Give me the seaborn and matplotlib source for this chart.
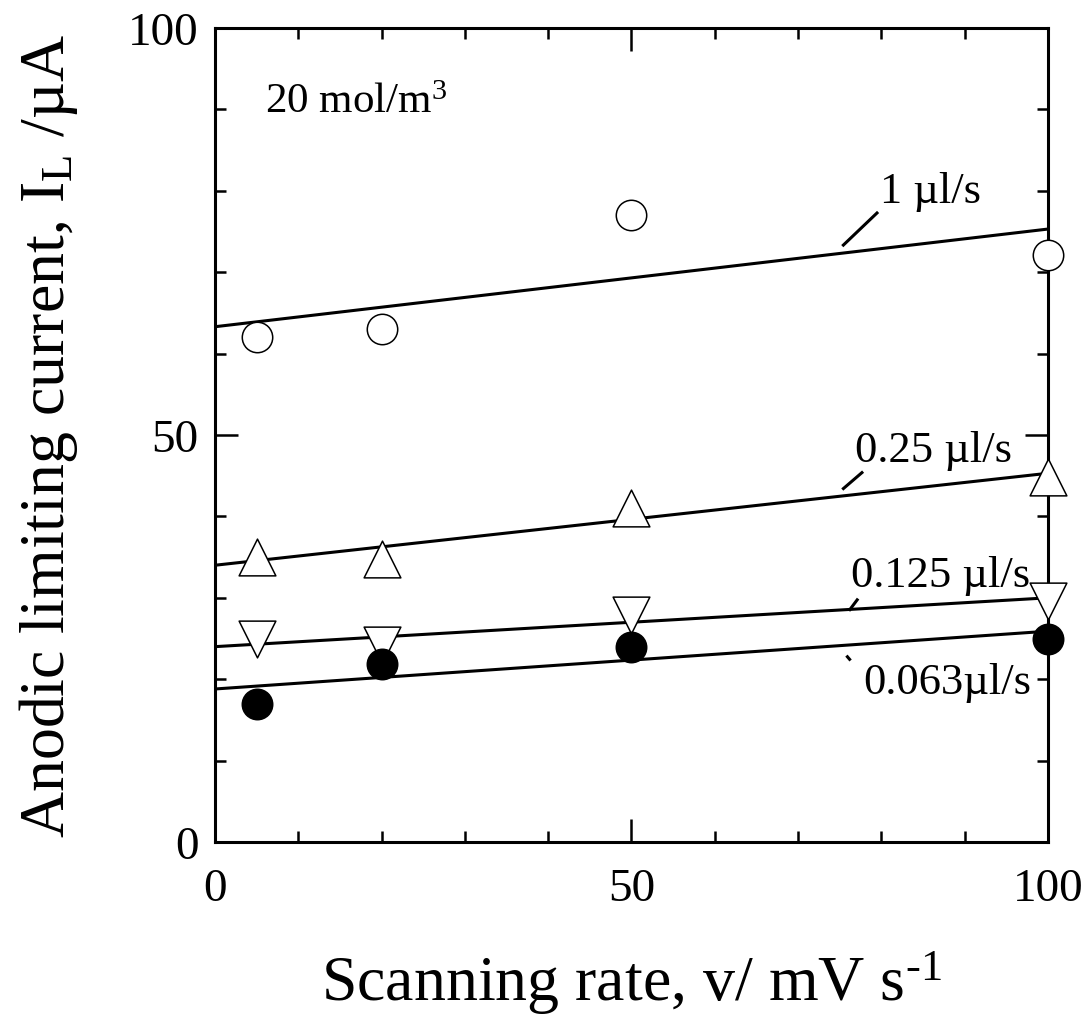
import matplotlib
matplotlib.use("Agg")
import matplotlib.pyplot as plt
import pandas as pd
import seaborn as sns
from matplotlib.ticker import MultipleLocator

# Scanning rates (mV/s) and anodic limiting currents (µA) for each flow rate
scan_rate = [5, 20, 50, 100]
flow_rates = ["1 µl/s", "0.25 µl/s", "0.125 µl/s", "0.063µl/s"]
current_1 = [62.0, 63.0, 77.0, 72.1]
current_025 = [35.0, 34.8, 41.0, 44.9]
current_0125 = [25.0, 24.2, 27.9, 29.6]
current_0063 = [17.0, 21.9, 24.0, 25.0]

# Linear fit lines, evaluated at the ends of the axis
fit_x = [0, 100]
fit_1 = [63.3, 75.3]
fit_025 = [34.0, 45.3]
fit_0125 = [24.0, 30.0]
fit_0063 = [18.8, 25.9]

currents = [current_1, current_025, current_0125, current_0063]
fits = [fit_1, fit_025, fit_0125, fit_0063]

points = pd.concat(
    [pd.DataFrame({"v": scan_rate, "I": c, "flow": f}) for c, f in zip(currents, flow_rates)],
    ignore_index=True,
)
lines = pd.concat(
    [pd.DataFrame({"v": fit_x, "I": c, "flow": f}) for c, f in zip(fits, flow_rates)],
    ignore_index=True,
)

sns.set_style("ticks")
plt.rcParams["font.family"] = ["Liberation Serif", "DejaVu Serif"]
plt.rcParams["mathtext.fontset"] = "custom"
plt.rcParams["mathtext.rm"] = "Liberation Serif"
plt.rcParams["mathtext.it"] = "Liberation Serif:italic"
plt.rcParams["text.color"] = "black"
plt.rcParams["axes.labelcolor"] = "black"
plt.rcParams["xtick.color"] = "black"
plt.rcParams["ytick.color"] = "black"

fig = plt.figure(figsize=(10.9, 10.2), dpi=100)
ax = fig.add_axes([0.1972, 0.1735, 0.7643, 0.7981])

# fit lines
for f in flow_rates:
    sns.lineplot(data=lines[lines.flow == f], x="v", y="I", color="black",
                 linewidth=2.2, ax=ax, legend=False, zorder=2)

# measured points
marker_style = {
    "1 µl/s": dict(marker="o", s=480, facecolor="white"),
    "0.25 µl/s": dict(marker="^", s=700, facecolor="white"),
    "0.125 µl/s": dict(marker="v", s=700, facecolor="white"),
    "0.063µl/s": dict(marker="o", s=480, facecolor="black"),
}
for f in flow_rates:
    st = marker_style[f]
    sns.scatterplot(data=points[points.flow == f], x="v", y="I", marker=st["marker"],
                    s=st["s"], color=st["facecolor"], edgecolor="black", linewidth=1.1,
                    ax=ax, legend=False, clip_on=False, zorder=5)

# flow-rate labels with short leader strokes
labels = [
    ("1 µl/s", 79.8, 78.6, (79.6, 75.3), (77.4, 73.2)),
    ("0.25 µl/s", 76.8, 46.8, (77.8, 75.3), (45.5, 43.3)),
    ("0.125 µl/s", 76.4, 31.5, (77.2, 76.1), (29.9, 28.4)),
    ("0.063µl/s", 77.8, 18.3, (75.8, 76.3), (22.9, 22.3)),
]
for text, tx, ty, lx, ly in labels:
    ax.text(tx, ty, text, fontsize=32, ha="left", va="baseline", zorder=6)
    ax.plot(lx, ly, color="black", linewidth=2.2, solid_capstyle="butt")

ax.text(6.0, 89.7, "20 mol/m$^{3}$", fontsize=31, ha="left", va="baseline")

ax.set_xlim(0, 100)
ax.set_ylim(0, 100)
ax.xaxis.set_major_locator(MultipleLocator(50))
ax.xaxis.set_minor_locator(MultipleLocator(10))
ax.yaxis.set_major_locator(MultipleLocator(50))
ax.yaxis.set_minor_locator(MultipleLocator(10))
ax.tick_params(which="both", direction="in", top=True, right=True, width=1.8,
               colors="black", labelsize=34)
ax.tick_params(which="major", length=16.5, pad=12)
ax.tick_params(axis="x", which="major", pad=18)
ax.tick_params(which="minor", length=8)
for sp in ax.spines.values():
    sp.set_linewidth(2.2)
    sp.set_color("black")
    sp.set_zorder(3)

ax.set_xlabel("Scanning rate, v/ mV s$^{\\text{-1}}$", fontsize=46, labelpad=28)
ax.set_ylabel("Anodic limiting current, I$_{\\text{L}}$ /µA", fontsize=46, labelpad=34)

fig.savefig("out.png", dpi=100, facecolor="white")
